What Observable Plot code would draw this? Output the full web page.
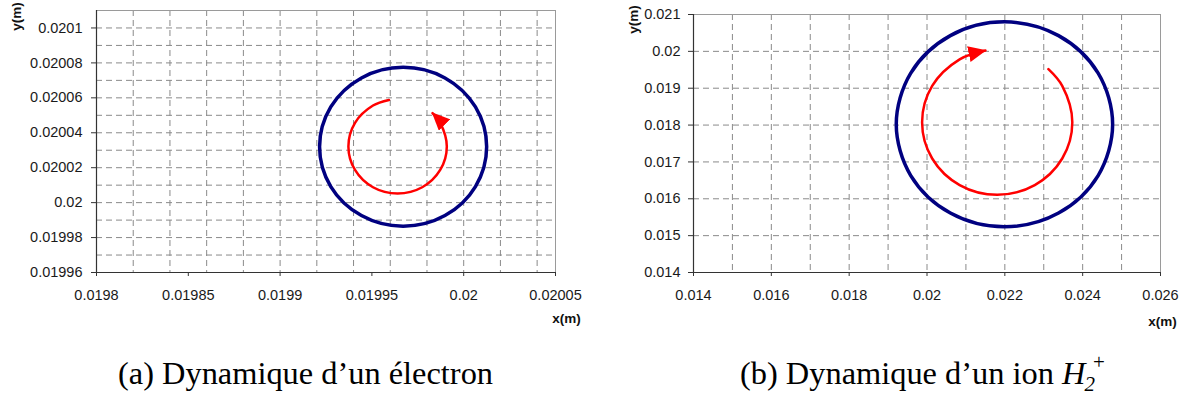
<!DOCTYPE html>
<html>
<head>
<meta charset="utf-8">
<script src="https://cdn.jsdelivr.net/npm/d3@7"></script>
<script src="https://cdn.jsdelivr.net/npm/@observablehq/plot@0.6"></script>
<style>
  html, body { margin: 0; padding: 0; background: #fff; }
  #wrap { position: relative; width: 1188px; height: 396px; overflow: hidden; }
  .panel { position: absolute; top: 0; }
  .cap { position: absolute; top: 356px; font-family: "Liberation Serif", "Times New Roman", serif; font-size: 32.4px; line-height: 1.107; color: #000; white-space: nowrap; }
  .ion { font-style: italic; }
  .sub { font-style: italic; font-size: 21px; position: relative; top: 7px; margin-left: -1px; }
  .sup { font-size: 21px; position: relative; top: -15px; margin-left: -2px; }
</style>
</head>
<body>
<div id="wrap">
  <div class="panel" id="pa" style="left:0px"></div>
  <div class="panel" id="pb" style="left:594px"></div>
  <div class="cap" id="capA" style="left:118px">(a) Dynamique d’un électron</div>
  <div class="cap" id="capB" style="left:740px">(b) Dynamique d’un ion <span class="ion">H</span><span class="sub">2</span><span class="sup">+</span></div>
</div>
<script>
// ---------- Panel (a): electron ----------
const xTicksA = [0.0198, 0.01985, 0.0199, 0.01995, 0.02, 0.02005];
const yTicksA = [0.01996, 0.01998, 0.02, 0.02002, 0.02004, 0.02006, 0.02008, 0.0201];
const gridXA = [0.01982, 0.01984, 0.01986, 0.01988, 0.0199, 0.01992, 0.01994, 0.01996, 0.01998, 0.02, 0.02002, 0.02004];
const gridYA = [0.01997, 0.01998, 0.01999, 0.02, 0.02001, 0.02002, 0.02003, 0.02004, 0.02005, 0.02006, 0.02007, 0.02008, 0.02009, 0.0201];
const orbitAx = [0.0200125, 0.0200064, 0.0199898, 0.019967, 0.0199443, 0.0199276, 0.0199215, 0.0199276, 0.0199443, 0.019967, 0.0199898, 0.0200064];
const orbitAy = [0.020032, 0.0200548, 0.0200714, 0.0200775, 0.0200714, 0.0200548, 0.020032, 0.0200092, 0.0199926, 0.0199865, 0.0199926, 0.0200092];
const arrowAx = [0.0199593, 0.0199506, 0.0199408, 0.0199372, 0.0199408, 0.0199506, 0.019964, 0.0199774, 0.0199872, 0.0199908, 0.0199872, 0.019983];
const arrowAy = [0.0200588, 0.0200556, 0.0200457, 0.0200322, 0.0200187, 0.0200088, 0.0200052, 0.0200088, 0.0200187, 0.0200322, 0.0200457, 0.0200513];

// ---------- Panel (b): H2+ ion ----------
const xTicksB = [0.014, 0.016, 0.018, 0.02, 0.022, 0.024, 0.026];
const yTicksB = [0.014, 0.015, 0.016, 0.017, 0.018, 0.019, 0.02, 0.021];
const gridXB = [0.015, 0.016, 0.017, 0.018, 0.019, 0.02, 0.021, 0.022, 0.023, 0.024, 0.025];
const gridYB = [0.015, 0.016, 0.017, 0.018, 0.019, 0.02];
const orbitBx = [0.02477, 0.0243975, 0.02338, 0.02199, 0.0206, 0.0195825, 0.01921, 0.0195825, 0.0206, 0.02199, 0.02338, 0.0243975];
const orbitBy = [0.01802, 0.01941, 0.0204275, 0.0208, 0.0204275, 0.01941, 0.01802, 0.01663, 0.0156125, 0.01524, 0.0156125, 0.01663];
const arrowBx = [0.02312, 0.023475, 0.023734, 0.023475, 0.022769, 0.021804, 0.020839, 0.020133, 0.019874, 0.020133, 0.020839, 0.021502];
const arrowBy = [0.019518, 0.019063, 0.018078, 0.017093, 0.016372, 0.016108, 0.016372, 0.017093, 0.018078, 0.019063, 0.019784, 0.020024];

const fmt = d => String(+d.toFixed(6));
const toPts = (xs, ys) => xs.map((x, i) => ({x, y: ys[i]}));

function panel(cfg) {
  const svg = Plot.plot({
    width: 594, height: 330,
    marginLeft: cfg.ml, marginRight: cfg.mr, marginTop: cfg.mt, marginBottom: cfg.mb,
    x: {domain: cfg.xd},
    y: {domain: cfg.yd},
    style: {fontFamily: "'Liberation Sans', Arial, sans-serif", fontSize: "14.5px", color: "#1a1a1a", background: "transparent", overflow: "visible"},
    marks: [
      Plot.gridX(cfg.gx, {stroke: "#8a8a8a", strokeOpacity: 1, strokeDasharray: "6,4"}),
      Plot.gridY(cfg.gy, {stroke: "#8a8a8a", strokeOpacity: 1, strokeDasharray: "6,4"}),
      Plot.frame({stroke: "#9a9a9a"}),
      Plot.axisX(cfg.xt, {tickSize: 4, tickPadding: 13, tickFormat: fmt, label: null, stroke: "#333"}),
      Plot.axisY(cfg.yt, {tickSize: 5, tickPadding: cfg.ypad, tickFormat: fmt, label: null, stroke: "#333"}),
      Plot.ruleX([cfg.xd[0]], {stroke: "#333", strokeWidth: 1.2}),
      Plot.ruleY([cfg.yd[0]], {stroke: "#333", strokeWidth: 1.2}),
      Plot.line(toPts(cfg.ox, cfg.oy), {x: "x", y: "y", curve: "catmull-rom-closed", stroke: "#000080", strokeWidth: 3.5}),
      Plot.line(toPts(cfg.ax, cfg.ay), {x: "x", y: "y", curve: "catmull-rom", stroke: "red", strokeWidth: 2.5}),
      Plot.text(["y(m)"], {frameAnchor: "top-left", dx: cfg.ylx, dy: cfg.yly, rotate: -90, textAnchor: "middle", lineAnchor: "middle", fontWeight: "bold", fontSize: 13.5, fill: "#111"}),
      Plot.text(["x(m)"], {frameAnchor: "bottom-right", dx: cfg.xlx, dy: cfg.xly, textAnchor: "middle", lineAnchor: "middle", fontWeight: "bold", fontSize: 13.5, fill: "#111"})
    ]
  });
  // filled arrowhead at the end of the red trajectory
  const ns = "http://www.w3.org/2000/svg";
  const defs = document.createElementNS(ns, "defs");
  const m = document.createElementNS(ns, "marker");
  m.setAttribute("id", cfg.id + "-head");
  m.setAttribute("viewBox", "0 0 18 16");
  m.setAttribute("refX", "17");
  m.setAttribute("refY", "8");
  m.setAttribute("markerWidth", "18");
  m.setAttribute("markerHeight", "16");
  m.setAttribute("markerUnits", "userSpaceOnUse");
  m.setAttribute("orient", "auto");
  const p = document.createElementNS(ns, "path");
  p.setAttribute("d", "M0,0L18,8L0,16Z");
  p.setAttribute("fill", "red");
  m.appendChild(p); defs.appendChild(m); svg.insertBefore(defs, svg.firstChild);
  svg.querySelectorAll('[stroke="red"]').forEach(el => {
    const paths = el.tagName.toLowerCase() === "path" ? [el] : el.querySelectorAll("path");
    paths.forEach(pp => pp.setAttribute("marker-end", `url(#${cfg.id}-head)`));
  });
  return svg;
}

document.getElementById("pa").appendChild(panel({
  id: "a", ml: 96, mr: 39, mt: 10, mb: 58, ypad: 9,
  xd: [0.0198, 0.02005], yd: [0.01996, 0.02011],
  xt: xTicksA, yt: yTicksA, gx: gridXA, gy: gridYA,
  ox: orbitAx, oy: orbitAy, ax: arrowAx, ay: arrowAy,
  ylx: -80, yly: 6, xlx: 11, xly: 46
}));
document.getElementById("pb").appendChild(panel({
  id: "b", ml: 99, mr: 28, mt: 14, mb: 58, ypad: 8,
  xd: [0.014, 0.026], yd: [0.014, 0.021],
  xt: xTicksB, yt: yTicksB, gx: gridXB, gy: gridYB,
  ox: orbitBx, oy: orbitBy, ax: arrowBx, ay: arrowBy,
  ylx: -60, yly: 5, xlx: 2, xly: 49
}));
</script>
</body>
</html>
